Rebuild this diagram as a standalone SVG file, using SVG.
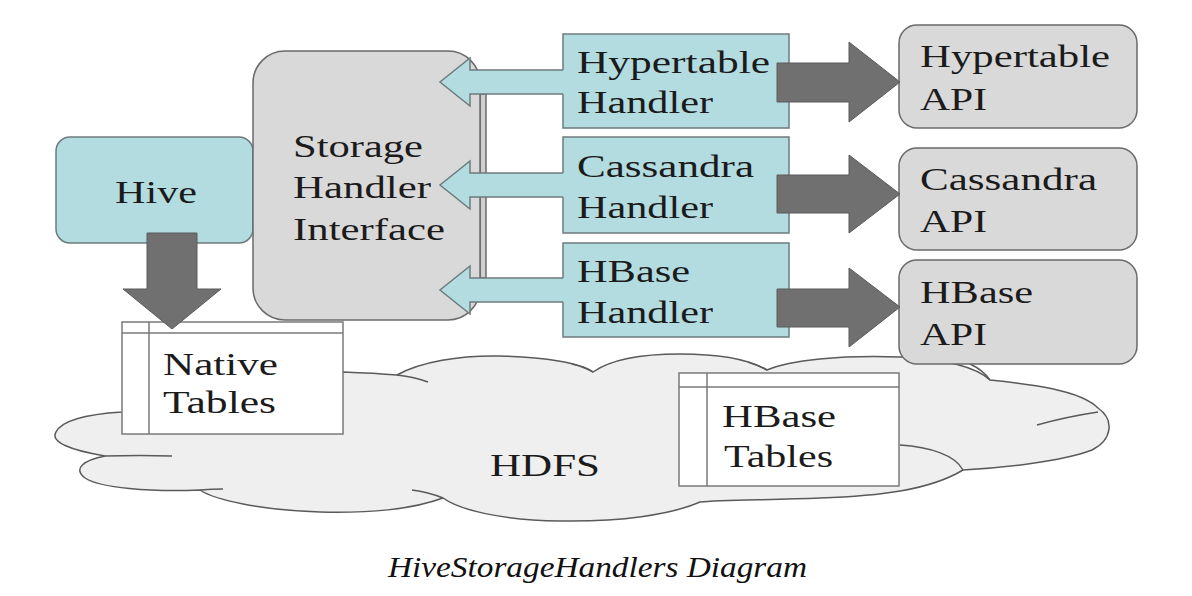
<svg xmlns="http://www.w3.org/2000/svg" width="1192" height="596" viewBox="0 0 1192 596">
<style>
.t{font-size:32px;fill:#1b1b1b}
.cap{font-size:30px;font-style:italic;fill:#111}
.teal{fill:#b3dce1;stroke:#6e7b7d;stroke-width:1.5}
.tealf{fill:#b3dce1;stroke:none}
.teals{fill:none;stroke:#6e7b7d;stroke-width:1.5;stroke-linejoin:miter}
.gray{fill:#d9d9d9;stroke:#6a6a6a;stroke-width:1.5}
.dark{fill:#707070;stroke:#5a5a5a;stroke-width:1}
.tab{fill:#fff;stroke:#7a7a7a;stroke-width:1.5}
.tabl{fill:none;stroke:#7a7a7a;stroke-width:1.5}
.cloud{fill:#efefef;stroke:#5a5a5a;stroke-width:1.5}
.hook{fill:none;stroke:#5a5a5a;stroke-width:1.5}
</style>
<rect width="1192" height="596" fill="#fff"/>
<g font-family="Liberation Serif, DejaVu Serif, Times New Roman, serif">

<g id="hdfs">
<path class="cloud" d="M 343 372 C 370 373, 385 374, 397 375 C 420 362, 460 355, 500 356 C 545 357, 580 363, 593 372 C 610 360, 640 354, 680 354 C 720 354, 750 360, 767 370 C 790 360, 840 355, 900 357 C 940 359, 975 366, 990 380 C 1030 384, 1080 390, 1098 408 C 1115 420, 1112 440, 1092 450 C 1060 462, 1000 468, 963 470 C 930 490, 880 496, 820 498 C 770 500, 720 500, 700 502 C 670 515, 620 522, 560 521 C 500 520, 460 510, 443 498 C 410 510, 370 513, 320 512 C 260 510, 215 500, 200 490 C 150 492, 100 488, 85 478 C 72 468, 85 460, 105 456 C 70 450, 50 442, 56 432 C 62 420, 90 414, 122 412 Z"/>
<path class="hook" d="M 397 375 Q 415 377 428 382 M 593 372 Q 585 367 572 364 M 767 370 Q 760 366 748 362 M 990 380 Q 983 370 970 364 M 1037 425 Q 1065 417 1098 412 M 963 470 C 955 455, 930 447, 900 445 M 443 498 Q 428 492 412 490 M 200 490 Q 212 489 223 489 M 105 456 Q 140 455 172 456"/>
<text class="t" x="490" y="476" textLength="110" lengthAdjust="spacingAndGlyphs">HDFS</text>
</g>

<g id="native-tables">
<rect class="tab" x="122" y="322" width="221" height="112"/>
<path class="tabl" d="M122 333 H343 M149 322 V434"/>
<text class="t" x="163" y="375" textLength="115" lengthAdjust="spacingAndGlyphs">Native</text>
<text class="t" x="163" y="413" textLength="113" lengthAdjust="spacingAndGlyphs">Tables</text>
</g>

<g id="hbase-tables">
<rect class="tab" x="679" y="373" width="220" height="113"/>
<path class="tabl" d="M679 387 H899 M707 373 V486"/>
<text class="t" x="722" y="427" textLength="114" lengthAdjust="spacingAndGlyphs">HBase</text>
<text class="t" x="724" y="467" textLength="109" lengthAdjust="spacingAndGlyphs">Tables</text>
</g>

<g id="hive">
<rect class="teal" x="56" y="137" width="197" height="106" rx="14"/>
<text class="t" x="115" y="203" textLength="82" lengthAdjust="spacingAndGlyphs">Hive</text>
</g>

<g id="storage-handler-interface">
<rect class="gray" x="480" y="94" width="6" height="184" style="fill:#cfcfcf"/>
<rect class="gray" x="253" y="51" width="227" height="269" rx="32"/>
<text class="t" x="293" y="157" textLength="130" lengthAdjust="spacingAndGlyphs">Storage</text>
<text class="t" x="293" y="198" textLength="138" lengthAdjust="spacingAndGlyphs">Handler</text>
<text class="t" x="293" y="240" textLength="152" lengthAdjust="spacingAndGlyphs">Interface</text>
</g>

<g id="hypertable-handler">
<rect class="teal" x="563" y="34" width="226" height="94"/>
<text class="t" x="577" y="73" textLength="193" lengthAdjust="spacingAndGlyphs">Hypertable</text>
<text class="t" x="577" y="113" textLength="136" lengthAdjust="spacingAndGlyphs">Handler</text>
</g>

<g id="cassandra-handler">
<rect class="teal" x="563" y="137" width="226" height="96"/>
<text class="t" x="577" y="177" textLength="177" lengthAdjust="spacingAndGlyphs">Cassandra</text>
<text class="t" x="577" y="218" textLength="136" lengthAdjust="spacingAndGlyphs">Handler</text>
</g>

<g id="hbase-handler">
<rect class="teal" x="563" y="243" width="226" height="94"/>
<text class="t" x="577" y="282" textLength="113" lengthAdjust="spacingAndGlyphs">HBase</text>
<text class="t" x="577" y="323" textLength="136" lengthAdjust="spacingAndGlyphs">Handler</text>
</g>

<g id="hypertable-api">
<rect class="gray" x="899" y="25" width="238" height="103" rx="18"/>
<text class="t" x="920" y="67" textLength="190" lengthAdjust="spacingAndGlyphs">Hypertable</text>
<text class="t" x="920" y="110" textLength="67" lengthAdjust="spacingAndGlyphs">API</text>
</g>

<g id="cassandra-api">
<rect class="gray" x="899" y="148" width="238" height="102" rx="18"/>
<text class="t" x="920" y="190" textLength="177" lengthAdjust="spacingAndGlyphs">Cassandra</text>
<text class="t" x="920" y="232" textLength="67" lengthAdjust="spacingAndGlyphs">API</text>
</g>

<g id="hbase-api">
<rect class="gray" x="899" y="260" width="238" height="104" rx="18"/>
<text class="t" x="920" y="303" textLength="113" lengthAdjust="spacingAndGlyphs">HBase</text>
<text class="t" x="920" y="345" textLength="67" lengthAdjust="spacingAndGlyphs">API</text>
</g>

<g id="connectors">
<polygon class="tealf" points="565,70 470,70 470,58 440,82 470,106 470,94 565,94"/>
<polyline class="teals" points="563,70 470,70 470,58 440,82 470,106 470,94 563,94"/>
<polygon class="tealf" points="565,173 470,173 470,161 440,185 470,209 470,197 565,197"/>
<polyline class="teals" points="563,173 470,173 470,161 440,185 470,209 470,197 563,197"/>
<polygon class="tealf" points="565,278 470,278 470,266 440,290 470,314 470,302 565,302"/>
<polyline class="teals" points="563,278 470,278 470,266 440,290 470,314 470,302 563,302"/>
<polygon class="dark" points="777,63 849,63 849,42 900,82 849,122 849,102 777,102"/>
<polygon class="dark" points="777,175 849,175 849,155 900,194 849,233 849,213 777,213"/>
<polygon class="dark" points="777,289 849,289 849,268 900,307 849,347 849,327 777,327"/>
<polygon class="dark" points="147,233 197,233 197,289 221,289 172,329 123,289 147,289"/>
</g>

<text class="cap" x="388" y="577" textLength="419" lengthAdjust="spacingAndGlyphs">HiveStorageHandlers Diagram</text>
</g>
</svg>
